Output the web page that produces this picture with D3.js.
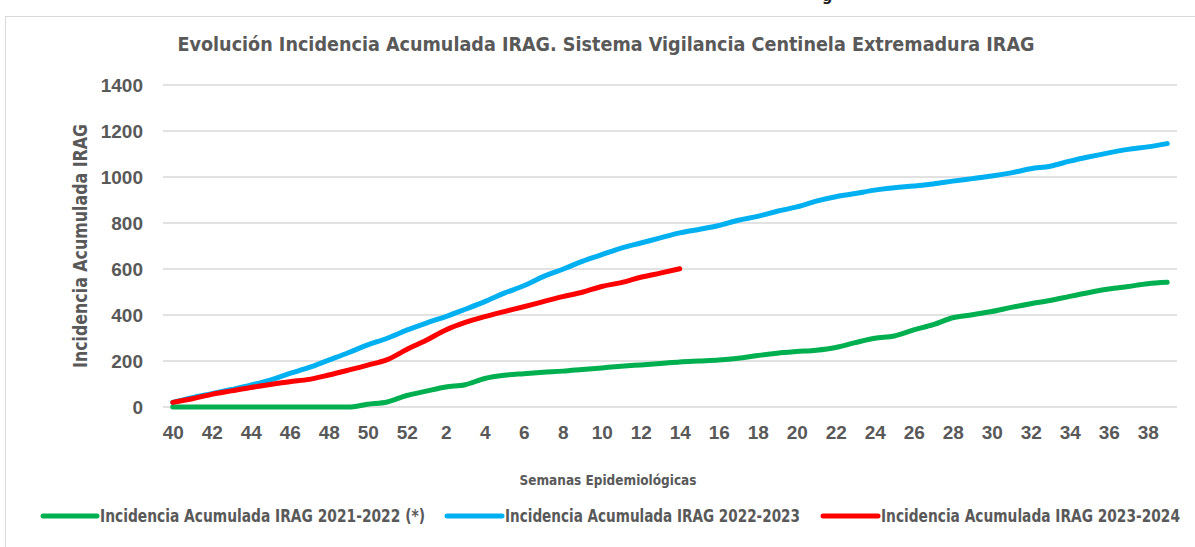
<!DOCTYPE html>
<html>
<head>
<meta charset="utf-8">
<script src="https://cdn.jsdelivr.net/npm/d3@7"></script>
<style>
  body { margin: 0; background: #fff; }
  text { font-family: "Liberation Sans Narrow", "DejaVu Sans Condensed", "Liberation Sans", sans-serif; fill: #595959; font-weight: bold; }
</style>
</head>
<body>
<div class="canvas"></div>
<script>

// categories: epidemiological weeks 40..52 then 1..39
const weeks = [40, 41, 42, 43, 44, 45, 46, 47, 48, 49, 50, 51, 52,
    1, 2, 3, 4, 5, 6, 7, 8, 9, 10, 11, 12, 13, 14, 15, 16, 17, 18, 19, 20,
    21, 22, 23, 24, 25, 26, 27, 28, 29, 30, 31, 32, 33, 34, 35, 36, 37, 38, 39];

const season2122 = [0, 0, 0, 0, 0, 0, 0, 0, 0, 0, 12, 22, 50,
    69, 87, 97, 124, 138, 145, 151, 156, 163, 170, 177, 183, 189, 196, 200, 204, 212, 224, 234, 241,
    247, 259, 280, 299, 309, 335, 358, 388, 401, 415, 433, 449, 463, 481, 498, 513, 524, 536, 542];

const season2223 = [20, 41, 58, 76, 95, 117, 146, 172, 204, 236, 270, 299, 334,
    365, 393, 425, 458, 495, 527, 567, 599, 633, 662, 691, 713, 735, 757, 772, 789, 812, 829, 851, 870,
    895, 914, 928, 943, 953, 961, 970, 982, 993, 1004, 1018, 1036, 1047, 1069, 1088, 1105, 1120, 1131, 1145];

const season2324 = [20, 36, 55, 70, 85, 98, 110, 120, 139, 160, 182, 206, 250,
    290, 335, 368, 393, 415, 436, 458, 480, 499, 524, 541, 564, 582, 601];

const yTicks = [0, 200, 400, 600, 800, 1000, 1200, 1400];
const xTickWeeks = [40, 42, 44, 46, 48, 50, 52, 2, 4, 6, 8, 10, 12, 14, 16, 18, 20, 22, 24, 26, 28, 30, 32, 34, 36, 38];

const seriesNames = ['Incidencia Acumulada IRAG 2021-2022 (*)', 'Incidencia Acumulada IRAG 2022-2023', 'Incidencia Acumulada IRAG 2023-2024'];
const seriesColors = ['#00B050', '#00B0F0', '#FF0000'];

const width = 1195;
const height = 547;
const plot = { left: 163, right: 1177, top: 85, bottom: 407 };

const svg = d3.select('.canvas')
    .append('svg')
        .attr('width', width)
        .attr('height', height);

// chart border
svg.append('rect')
    .attr('x', 5.5)
    .attr('y', 16.5)
    .attr('width', 1200)
    .attr('height', 560)
    .attr('fill', 'none')
    .attr('stroke', '#d9d9d9');

// cut off text from above the chart
svg.append('text')
    .attr('x', 822)
    .attr('y', 1)
    .style('font-size', '16px')
    .style('fill', '#222')
    .text('g');

// scales
const x = d3.scalePoint().domain(d3.range(weeks.length)).range([plot.left, plot.right]).padding(0.5);
const y = d3.scaleLinear().domain([0, 1400]).range([plot.bottom, plot.top]);

// gridlines
svg.append('g')
    .selectAll('line')
    .data(yTicks)
    .enter()
    .append('line')
        .attr('x1', plot.left)
        .attr('x2', plot.right)
        .attr('y1', d => y(d))
        .attr('y2', d => y(d))
        .attr('stroke', '#d9d9d9')
        .attr('stroke-width', 1.5);

// y axis labels
const yAxis = d3.axisLeft(y).tickValues(yTicks).tickFormat(d => d).tickSize(0).tickPadding(0);
const yAxisGroup = svg.append('g')
    .attr('transform', 'translate(143, 0)')
    .call(yAxis);
yAxisGroup.select('.domain').remove();
yAxisGroup.selectAll('text')
    .style('font-family', '"Liberation Sans", sans-serif')
    .style('font-size', '19px')
    .attr('fill', '#595959');

// x axis labels (every other week)
const xAxis = d3.axisBottom(x)
    .tickValues(weeks.map((w, i) => i).filter(i => xTickWeeks.includes(weeks[i])))
    .tickFormat(i => weeks[i])
    .tickSize(0)
    .tickPadding(0);
const xAxisGroup = svg.append('g')
    .attr('transform', 'translate(0, 425)')
    .call(xAxis);
xAxisGroup.select('.domain').remove();
xAxisGroup.selectAll('text')
    .style('font-family', '"Liberation Sans", sans-serif')
    .style('font-size', '19px')
    .attr('fill', '#595959');

// line generator
const line = d3.line()
    .x((d, i) => x(i))
    .y(d => y(d))
    .curve(d3.curveMonotoneX);

[season2122, season2223, season2324].forEach((values, k) => {
    svg.append('path')
        .datum(values)
        .attr('fill', 'none')
        .attr('stroke', seriesColors[k])
        .attr('stroke-width', 5)
        .attr('stroke-linecap', 'round')
        .attr('stroke-linejoin', 'round')
        .attr('d', line);
});

// title
svg.append('text')
    .attr('x', 606)
    .attr('y', 51)
    .attr('text-anchor', 'middle')
    .attr('textLength', 857)
    .attr('lengthAdjust', 'spacingAndGlyphs')
    .style('font-size', '19px')
    .text('Evolución Incidencia Acumulada IRAG. Sistema Vigilancia Centinela Extremadura IRAG');

// axis titles
svg.append('text')
    .attr('transform', 'translate(87, 246) rotate(-90)')
    .attr('text-anchor', 'middle')
    .attr('textLength', 244)
    .attr('lengthAdjust', 'spacingAndGlyphs')
    .style('font-size', '20px')
    .text('Incidencia Acumulada IRAG');

svg.append('text')
    .attr('x', 608)
    .attr('y', 485)
    .attr('text-anchor', 'middle')
    .attr('textLength', 177)
    .attr('lengthAdjust', 'spacingAndGlyphs')
    .style('font-size', '14px')
    .text('Semanas Epidemiológicas');

// legend
const legendItems = [
    { x1: 43, x2: 97, tx: 100, tw: 325 },
    { x1: 447, x2: 502, tx: 505, tw: 295 },
    { x1: 823, x2: 878, tx: 881, tw: 299 }
];
const legend = svg.append('g');
legendItems.forEach((item, k) => {
    legend.append('line')
        .attr('x1', item.x1)
        .attr('x2', item.x2)
        .attr('y1', 516)
        .attr('y2', 516)
        .attr('stroke', seriesColors[k])
        .attr('stroke-width', 5)
        .attr('stroke-linecap', 'round');
    legend.append('text')
        .attr('x', item.tx)
        .attr('y', 522)
        .attr('textLength', item.tw)
        .attr('lengthAdjust', 'spacingAndGlyphs')
        .style('font-size', '17px')
        .text(seriesNames[k]);
});

</script>
</body>
</html>
